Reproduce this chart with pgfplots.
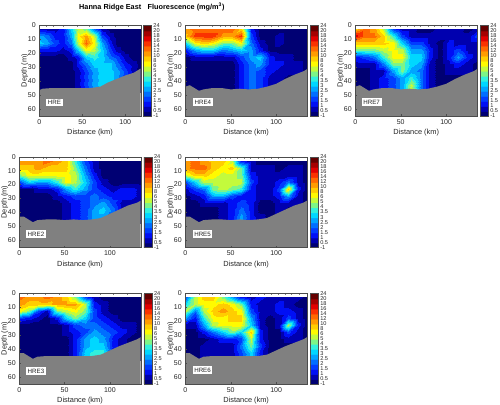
\documentclass[border=0pt]{standalone}
\usepackage{pgfplots}
\usepackage{pgfplotstable}
\usepackage{fontspec}
\setmainfont{Liberation Sans}
\pgfplotsset{compat=1.18}
\definecolor{bluebar}{RGB}{20,20,220}
\pgfplotstableset{row sep=\\,header=false}
% colour-level index of fluorescence on a 14 x 10 section grid, row by row (depth 3,8,...,48 m)
\pgfplotstableread{
1\\1\\1\\2\\6\\9\\8\\4\\1\\0\\0\\0\\0\\0\\
5\\4\\2\\2\\5\\10\\12\\9\\3\\1\\0\\0\\0\\0\\
6\\5\\3\\2\\4\\9\\13\\10\\5\\2\\0\\0\\0\\0\\
2\\2\\2\\1\\2\\6\\10\\9\\6\\3\\1\\0\\0\\0\\
0\\0\\0\\0\\1\\2\\6\\7\\6\\4\\3\\1\\0\\0\\
0\\0\\0\\0\\0\\2\\4\\6\\6\\6\\4\\2\\1\\0\\
0\\0\\0\\0\\0\\1\\3\\5\\6\\6\\5\\3\\1\\0\\
0\\0\\0\\0\\0\\1\\3\\5\\6\\6\\5\\3\\1\\0\\
0\\0\\0\\0\\0\\1\\3\\5\\6\\6\\5\\3\\1\\0\\
0\\0\\0\\0\\0\\1\\3\\5\\6\\6\\5\\3\\1\\0\\
}\dA
\pgfplotstableread{
12\\13\\13\\13\\13\\13\\11\\2\\0\\0\\0\\0\\0\\0\\
11\\14\\14\\14\\12\\12\\14\\3\\0\\0\\1\\0\\0\\0\\
6\\10\\11\\10\\8\\8\\10\\4\\1\\0\\1\\0\\0\\0\\
2\\5\\6\\6\\4\\5\\6\\5\\2\\0\\0\\0\\0\\0\\
0\\1\\1\\1\\1\\1\\3\\5\\6\\2\\1\\1\\0\\0\\
0\\0\\0\\0\\0\\0\\2\\4\\5\\2\\2\\1\\1\\0\\
0\\0\\0\\0\\0\\0\\2\\4\\3\\2\\1\\1\\1\\0\\
0\\0\\0\\0\\0\\0\\2\\4\\3\\1\\1\\0\\0\\0\\
0\\0\\0\\0\\0\\0\\2\\4\\3\\1\\1\\0\\0\\0\\
0\\0\\0\\0\\0\\0\\2\\4\\3\\1\\1\\0\\0\\0\\
}\dB
\pgfplotstableread{
11\\13\\12\\9\\3\\1\\1\\0\\0\\1\\1\\1\\0\\1\\
15\\13\\13\\11\\7\\3\\1\\1\\1\\1\\1\\1\\1\\3\\
11\\11\\11\\11\\10\\6\\3\\3\\1\\0\\2\\1\\1\\1\\
8\\8\\8\\9\\10\\9\\5\\5\\2\\0\\2\\3\\1\\1\\
2\\3\\4\\7\\10\\10\\6\\6\\2\\0\\2\\5\\2\\1\\
1\\1\\1\\4\\8\\8\\6\\5\\1\\0\\1\\2\\1\\0\\
0\\0\\1\\1\\5\\8\\5\\4\\1\\0\\1\\1\\1\\0\\
0\\0\\1\\2\\3\\5\\7\\4\\1\\0\\0\\0\\0\\0\\
0\\0\\1\\2\\3\\5\\9\\4\\1\\0\\0\\0\\0\\0\\
0\\0\\1\\2\\3\\5\\9\\4\\1\\0\\0\\0\\0\\0\\
}\dC
\pgfplotstableread{
12\\12\\12\\13\\12\\11\\7\\3\\1\\0\\0\\0\\0\\0\\
11\\11\\12\\11\\11\\11\\8\\4\\1\\0\\0\\0\\0\\0\\
8\\10\\10\\10\\10\\10\\9\\5\\2\\0\\0\\0\\0\\0\\
3\\6\\5\\5\\7\\10\\9\\6\\3\\1\\0\\0\\0\\0\\
0\\0\\1\\1\\2\\5\\7\\5\\3\\2\\1\\2\\2\\1\\
0\\0\\0\\0\\1\\2\\3\\3\\4\\3\\2\\2\\2\\1\\
0\\0\\0\\0\\0\\1\\2\\3\\4\\5\\3\\1\\1\\0\\
0\\0\\0\\0\\0\\1\\2\\3\\5\\6\\4\\1\\1\\0\\
0\\0\\0\\0\\0\\1\\2\\3\\5\\5\\3\\1\\1\\0\\
0\\0\\0\\0\\0\\1\\2\\3\\5\\5\\3\\1\\1\\0\\
}\dD
\pgfplotstableread{
12\\13\\12\\11\\11\\9\\2\\1\\0\\0\\0\\0\\0\\0\\
12\\13\\13\\11\\10\\11\\8\\1\\1\\1\\0\\1\\1\\0\\
9\\11\\11\\10\\9\\9\\8\\2\\1\\1\\1\\1\\1\\0\\
3\\6\\9\\9\\9\\9\\9\\3\\1\\1\\2\\4\\1\\0\\
1\\3\\4\\8\\9\\8\\7\\2\\1\\1\\3\\11\\2\\0\\
0\\1\\2\\5\\5\\3\\2\\2\\1\\1\\2\\5\\1\\0\\
0\\0\\1\\1\\1\\2\\3\\2\\0\\0\\1\\1\\1\\0\\
0\\0\\0\\0\\1\\2\\4\\2\\0\\0\\1\\0\\0\\0\\
0\\0\\0\\0\\1\\2\\5\\2\\1\\0\\0\\0\\0\\0\\
0\\0\\0\\0\\1\\2\\5\\2\\1\\0\\0\\0\\0\\0\\
}\dE
\pgfplotstableread{
13\\12\\12\\13\\12\\11\\8\\3\\1\\0\\0\\0\\0\\0\\
12\\11\\11\\11\\12\\12\\12\\9\\2\\1\\0\\0\\0\\0\\
10\\8\\3\\1\\8\\9\\10\\8\\3\\1\\0\\0\\0\\0\\
3\\2\\1\\0\\2\\6\\8\\6\\3\\2\\1\\0\\0\\0\\
0\\0\\0\\0\\0\\1\\3\\4\\4\\3\\2\\1\\1\\0\\
0\\0\\0\\0\\0\\1\\2\\3\\5\\4\\3\\2\\1\\0\\
0\\0\\0\\0\\0\\0\\2\\5\\6\\5\\2\\1\\0\\0\\
0\\0\\0\\0\\0\\0\\2\\5\\6\\6\\2\\1\\0\\0\\
0\\0\\0\\0\\0\\0\\2\\6\\7\\7\\2\\1\\0\\0\\
0\\0\\0\\0\\0\\0\\2\\6\\7\\7\\2\\1\\0\\0\\
}\dF
\pgfplotstableread{
3\\9\\11\\11\\8\\5\\2\\1\\2\\1\\1\\1\\1\\0\\
6\\9\\10\\10\\11\\10\\8\\2\\1\\1\\2\\1\\0\\0\\
9\\4\\9\\11\\12\\11\\10\\3\\1\\1\\2\\2\\1\\0\\
5\\2\\7\\10\\10\\11\\11\\5\\1\\0\\1\\3\\1\\0\\
1\\1\\5\\9\\10\\10\\10\\6\\1\\0\\1\\9\\2\\0\\
0\\0\\2\\4\\6\\8\\6\\11\\2\\0\\0\\3\\1\\0\\
0\\0\\0\\1\\2\\2\\3\\9\\2\\0\\0\\1\\1\\0\\
0\\0\\1\\1\\1\\1\\4\\8\\3\\0\\0\\0\\0\\0\\
0\\0\\1\\1\\1\\1\\3\\6\\2\\0\\0\\0\\0\\0\\
0\\0\\1\\1\\1\\1\\3\\6\\2\\0\\0\\0\\0\\0\\
}\dG
\pgfplotsset{
 colormap={fluor}{
  rgb255(0)=(0,0,115) rgb255(99)=(0,0,115)
  rgb255(100)=(0,0,175) rgb255(199)=(0,0,175)
  rgb255(200)=(0,15,245) rgb255(299)=(0,15,245)
  rgb255(300)=(0,60,255) rgb255(399)=(0,60,255)
  rgb255(400)=(0,110,255) rgb255(499)=(0,110,255)
  rgb255(500)=(0,165,255) rgb255(599)=(0,165,255)
  rgb255(600)=(0,215,255) rgb255(699)=(0,215,255)
  rgb255(700)=(50,240,220) rgb255(799)=(50,240,220)
  rgb255(800)=(125,245,135) rgb255(899)=(125,245,135)
  rgb255(900)=(195,250,60) rgb255(999)=(195,250,60)
  rgb255(1000)=(255,250,0) rgb255(1099)=(255,250,0)
  rgb255(1100)=(255,205,0) rgb255(1199)=(255,205,0)
  rgb255(1200)=(255,155,0) rgb255(1299)=(255,155,0)
  rgb255(1300)=(255,105,0) rgb255(1399)=(255,105,0)
  rgb255(1400)=(250,50,0) rgb255(1499)=(250,50,0)
  rgb255(1500)=(225,0,0) rgb255(1599)=(225,0,0)
  rgb255(1600)=(165,0,0) rgb255(1699)=(165,0,0)
  rgb255(1700)=(100,0,0) rgb255(1800)=(100,0,0)
 },
 panel/.style={
  scale only axis, anchor=north west, clip mode=individual,
  width=#1, height=90.6pt, axis on top,
  y dir=reverse, ymin=0, ymax=65, xmin=0,
  ytick={0,10,...,60}, xtick={0,50,100},
  tick pos=left, tick style={draw=black!70,line width=0.3pt}, major tick length=1.5pt,
  axis line style={draw=black!70,line width=0.35pt},
  tick label style={font=\fontsize{7}{7}\selectfont,color=black!85},
  label style={font=\fontsize{7.4}{8}\selectfont,color=black!85},
  xlabel={Distance (km)}, ylabel={Depth (m)},
  xlabel style={yshift=2pt}, ylabel style={yshift=-7pt},
  /pgf/number format/assume math mode=true,
  xtick pos=bottom, ytick pos=left,
  point meta min=0, point meta max=18,
  colorbar,
  colorbar style={
    at={(1.027,1)}, anchor=north west, width=8pt,
    ytick={0,...,18},
    yticklabels={-1,0.5,1,1.5,2,2.5,3,3.5,4,5,6,8,10,12,14,16,18,20,24},
    tick pos=right, major tick length=0pt,
    yticklabel style={font=\fontsize{5.6}{5.6}\selectfont,xshift=-1.5pt,color=black!85},
    axis line style={draw=black!70,line width=0.3pt},
    /pgf/number format/assume math mode=true,
  },
 },
 field/.style={surf,shader=interp,mesh/cols=14,point meta=explicit,forget plot},
 ground/.style={fill=black!50,draw=none,forget plot},
 stn/.style={ycomb,no marks,draw=black!50,line width=0.5pt,forget plot},
 cruise/.style={draw=bluebar,line width=1.4pt,no marks,forget plot},
}
\newcommand{\field}[2]{\addplot[field] table[x index=0,y index=0,x expr={mod(\coordindex,14)*#2/13},y expr={3+5*floor(\coordindex/14)},meta expr={\thisrowno{0}+0.5}]{#1};}
\newcommand{\tag}[2]{\node[fill=white,inner sep=1.6pt,text=black!85,font=\fontsize{6.2}{6}\selectfont] at (axis cs:#1) {#2};}
\begin{document}
\begin{tikzpicture}[x=1pt,y=1pt]
\useasboundingbox (0,0) rectangle (500,404);
\node[anchor=base west,inner sep=0pt,font=\fontsize{7.3}{8}\selectfont\bfseries] at (79,394.5) {Hanna Ridge East};
\node[anchor=base west,inner sep=0pt,font=\fontsize{7.3}{8}\selectfont\bfseries] at (147.5,394.5) {Fluorescence (mg/m$^{\mathbf{3}}$)};
% HRE
\begin{axis}[panel=101.4pt,at={(39.3pt,378.7pt)},xmax=118]
\field{\dA}{118}
\addplot[ground] coordinates {(0,46.5)(4,45.5)(15,45)(30,45)(60,45)(71,44)(80,41)(100,36)(110,34)(118,31)(118,65)(0,65)};
\addplot[stn] coordinates {(0,1.5)(8,1.5)(16,1.5)(28,1.5)(44,1.5)(58,1.5)(73,1.5)(88,1.5)(104,1.5)};
\addplot[cruise] coordinates {(0,-7)(44,-7)};
\tag{17.7,55.4}{HRE}
\end{axis}
% HRE4
\begin{axis}[panel=121.7pt,at={(185.3pt,378.7pt)},xmax=134]
\field{\dB}{134}
\addplot[ground] coordinates {(0,44)(5,43)(10,45)(15,47)(20,46)(30,45)(40,45)(50,46)(60,45.5)(70,46)(80,45.5)(90,44)(100,42)(110,38.5)(120,35.5)(130,33)(134,31.5)(134,65)(0,65)};
\addplot[stn] coordinates {(15,1.5)(30,1.5)(38,1.5)(44,1.5)(50,1.5)(57,1.5)(65,1.5)(72,1.5)(80,1.5)(87,1.5)(95,1.5)(102,1.5)(110,1.5)(117,1.5)(125,1.5)};
\addplot[cruise] coordinates {(0,-7)(66,-7)};
\tag{19.3,55}{HRE4}
\end{axis}
% HRE7
\begin{axis}[panel=121.7pt,at={(355.3pt,378.7pt)},xmax=134]
\field{\dC}{134}
\addplot[ground] coordinates {(0,44)(5,43)(10,45)(15,47)(20,46)(30,45)(40,45)(50,46)(60,45.5)(70,46)(80,45.5)(90,44)(100,42)(110,38.5)(120,35.5)(130,33)(134,31.5)(134,65)(0,65)};
\addplot[stn] coordinates {(15,1.5)(30,1.5)(38,1.5)(44,1.5)(50,1.5)(57,1.5)(65,1.5)(72,1.5)(80,1.5)(87,1.5)(95,1.5)(102,1.5)(110,1.5)(117,1.5)(125,1.5)};
\addplot[cruise] coordinates {(1,-7)(66,-7)};
\tag{18,55}{HRE7}
\end{axis}
% HRE2
\begin{axis}[panel=121.4pt,at={(19.3pt,247.3pt)},xmax=134]
\field{\dD}{134}
\addplot[ground] coordinates {(0,43)(5,43)(10,45)(15,47)(20,45.5)(30,45)(40,45)(50,45.5)(60,45)(70,45.5)(80,45)(90,44)(100,41)(110,38)(120,35)(130,33)(134,31.5)(134,65)(0,65)};
\addplot[stn] coordinates {(15,1.5)(26,1.5)(30,1.5)(44,1.5)(59,1.5)(74,1.5)(89,1.5)(104,1.5)(119,1.5)};
\addplot[cruise] coordinates {(0,-7)(59,-7)};
\tag{18.4,55.5}{HRE2}
\end{axis}
% HRE5
\begin{axis}[panel=121.7pt,at={(185.3pt,247.3pt)},xmax=134]
\field{\dE}{134}
\addplot[ground] coordinates {(0,43)(5,43)(10,45)(15,47)(20,45.5)(30,45)(40,45)(50,45.5)(60,45)(70,45.5)(80,45)(90,44)(100,41)(110,38)(120,35)(130,33)(134,31.5)(134,65)(0,65)};
\addplot[stn] coordinates {(14,1.5)(30,1.5)(38,1.5)(44,1.5)(50,1.5)(57,1.5)(65,1.5)(72,1.5)(80,1.5)(87,1.5)(95,1.5)(102,1.5)(118,1.5)};
\addplot[cruise] coordinates {(0,-7)(51,-7)};
\tag{19,55.5}{HRE5}
\end{axis}
% HRE3
\begin{axis}[panel=121.4pt,at={(19.3pt,110.7pt)},xmax=134]
\field{\dF}{134}
\addplot[ground] coordinates {(0,43)(5,43)(10,45)(15,47)(20,45.5)(30,45)(40,45)(50,45)(60,45)(70,45)(80,45)(90,44)(100,41)(110,38)(120,35.5)(130,33)(134,31.5)(134,65)(0,65)};
\addplot[stn] coordinates {(9,1.5)(15,1.5)(29,1.5)(44,1.5)(59,1.5)(74,1.5)(89,1.5)(104,1.5)(119,1.5)};
\addplot[cruise] coordinates {(1,-7)(74,-7)};
\tag{18.4,55.7}{HRE3}
\end{axis}
% HRE6
\begin{axis}[panel=121.7pt,at={(185.3pt,110.7pt)},xmax=134]
\field{\dG}{134}
\addplot[ground] coordinates {(0,43)(5,43)(10,45)(15,47)(20,45.5)(30,45)(40,45)(50,45)(60,45)(70,45)(80,45)(90,44)(100,41)(110,38)(120,35.5)(130,33)(134,31.5)(134,65)(0,65)};
\addplot[stn] coordinates {(15,1.5)(30,1.5)(38,1.5)(44,1.5)(50,1.5)(57,1.5)(65,1.5)(72,1.5)(80,1.5)(87,1.5)(95,1.5)(102,1.5)(110,1.5)(117,1.5)(125,1.5)};
\addplot[cruise] coordinates {(1,-7)(67,-7)};
\tag{19,55}{HRE6}
\end{axis}
\end{tikzpicture}
\end{document}
